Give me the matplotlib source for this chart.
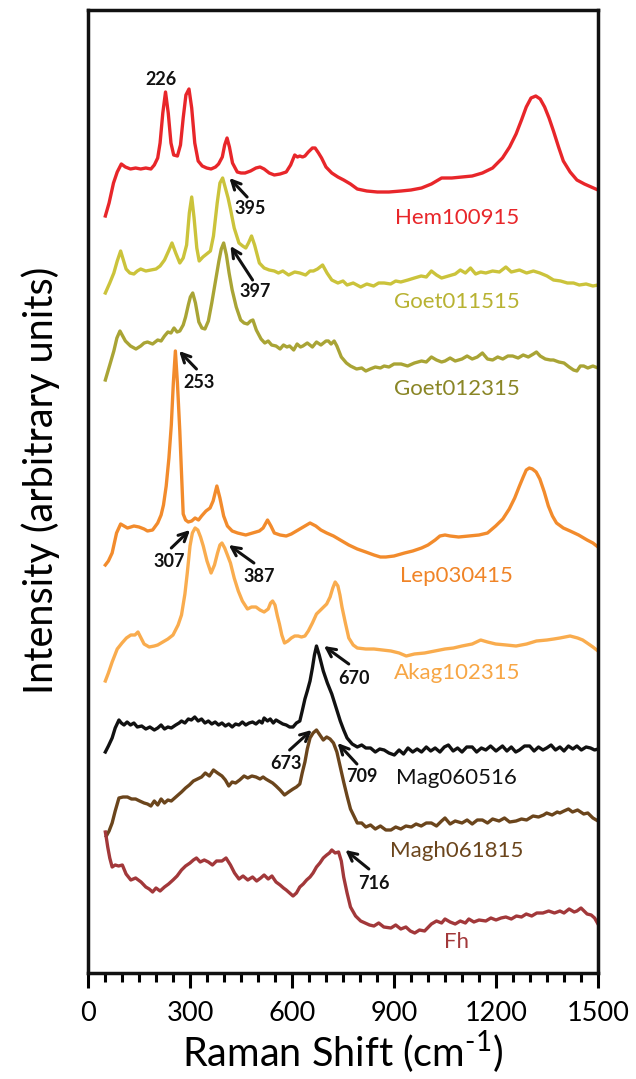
import numpy as np
import matplotlib
matplotlib.use("Agg")
import matplotlib.pyplot as plt
from matplotlib.ticker import MultipleLocator

plt.rcParams['font.family'] = ['Lato', 'DejaVu Sans']
plt.rcParams['mathtext.fontset'] = 'custom'
plt.rcParams['mathtext.rm'] = 'Lato'
plt.rcParams['axes.unicode_minus'] = False

# ---- spectra (x in cm-1, y in arbitrary units) ----
hem_x = [51, 62, 75, 86, 98, 110, 125, 140, 155, 170, 185, 195, 205, 212, 220, 228, 236, 244, 252, 263,
         272, 280, 288, 297, 305, 314, 324, 336, 349, 362, 375, 384, 395, 402, 409, 416, 425, 439, 450, 462,
         478, 494, 506, 518, 533, 548, 565, 583, 596, 608, 616, 623, 631, 638, 648, 660, 668, 678, 687, 700,
         717, 735, 752, 772, 792, 820, 851, 885, 921, 950, 981, 1010, 1040, 1070, 1100, 1130, 1160, 1190,
         1219, 1240, 1259, 1275, 1289, 1303, 1317, 1330, 1343, 1356, 1369, 1384, 1398, 1418, 1438, 1460,
         1480, 1500]
hem_y = [757, 770, 790, 801, 809, 806, 804, 805, 804, 805, 804, 808, 815, 830, 860, 881, 860, 830, 818, 817,
         828, 855, 878, 884, 865, 830, 812, 807, 805, 804, 806, 809, 816, 828, 835, 826, 810, 801, 800, 800,
         802, 805, 806, 804, 800, 798, 799, 801, 808, 818, 816, 817, 816, 817, 821, 825, 825, 820, 815, 806,
         800, 796, 793, 789, 784, 782, 781, 781, 782, 783, 785, 789, 795, 795, 796, 797, 800, 805,
         815, 826, 839, 853, 866, 875, 877, 874, 866, 855, 842, 826, 812, 801, 793, 789,
         786, 783]

goet1_x = [51, 64, 76, 86, 96, 104, 112, 123, 135, 145, 155, 170, 185, 200, 212, 225, 237, 247, 258, 270,
           280, 290, 298, 305, 312, 320, 327, 338, 349, 360, 369, 380, 388, 396, 404, 412, 419, 430, 444, 455,
           464, 472, 481, 490, 504, 518, 533, 548, 560, 573, 590, 608, 623, 640, 653, 663, 675, 690, 703, 717,
           735, 750, 762, 780, 802, 820, 840, 855, 871, 890, 905, 920, 941, 960, 980, 995, 1010, 1025, 1040,
           1060, 1080, 1095, 1110, 1125, 1140, 1155, 1170, 1190, 1210, 1229, 1245, 1269, 1290, 1310, 1329,
           1350, 1369, 1390, 1410, 1428, 1445, 1465, 1485, 1500]
goet1_y = [680, 690, 700, 712, 722, 713, 704, 700, 699, 702, 704, 702, 703, 704, 707, 713, 722, 730, 720, 710,
           715, 728, 760, 776, 755, 725, 712, 716, 719, 722, 737, 770, 790, 795, 785, 775, 764, 745, 730, 727,
           725, 730, 737, 728, 710, 705, 703, 702, 700, 702, 698, 701, 700, 698, 702, 702, 704, 708, 700, 693,
           690, 692, 688, 690, 686, 689, 687, 690, 690, 689, 692, 691, 693, 695, 697, 696, 702, 698, 695,
           697, 699, 703, 700, 705, 699, 701, 700, 702, 701, 706, 701, 703, 700, 702, 700,
           697, 693, 692, 690, 690, 688, 689, 687, 688]

goet2_x = [51, 64, 76, 85, 94, 102, 110, 125, 141, 155, 165, 175, 190, 205, 215, 225, 235, 244, 253, 262,
           270, 280, 287, 295, 301, 308, 316, 326, 335, 344, 354, 364, 375, 385, 392, 399, 407, 415, 424, 436,
           449, 459, 469, 478, 485, 495, 509, 520, 530, 540, 553, 565, 575, 585, 593, 605, 615, 625, 632, 645,
           660, 672, 685, 700, 707, 715, 724, 732, 745, 760, 772, 790, 805, 817, 830, 845, 860, 871, 885, 900,
           921, 940, 960, 981, 995, 1010, 1025, 1040, 1050, 1065, 1080, 1100, 1115, 1130, 1145, 1160, 1175,
           1190, 1205, 1220, 1235, 1249, 1265, 1280, 1295, 1310, 1319, 1330, 1345, 1360, 1369, 1385, 1400,
           1415, 1428, 1438, 1448, 1458, 1470, 1485, 1500]
goet2_y = [593, 608, 622, 635, 642, 637, 632, 627, 624, 627, 630, 631, 629, 633, 632, 637, 641, 640, 645, 641,
           642, 648, 656, 668, 676, 680, 670, 651, 645, 644, 652, 670, 692, 712, 724, 730, 718, 700, 683, 666,
           653, 650, 649, 652, 653, 643, 634, 630, 632, 628, 627, 624, 628, 626, 627, 623, 629, 626, 627, 630,
           626, 631, 628, 632, 632, 629, 632, 627, 616, 610, 607, 604, 605, 602, 604, 606, 605, 607, 606, 609,
           609, 607, 610, 612, 611, 616, 613, 611, 612, 615, 612, 614, 617, 614, 616, 620, 614,
           613, 616, 614, 617, 617, 615, 618, 616, 619, 621, 617, 614, 613, 613, 611, 610,
           606, 603, 602, 607, 607, 605, 607, 605]

lep_x = [51, 60, 71, 84, 96, 106, 116, 126, 135, 150, 165, 175, 190, 205, 215, 222, 230, 238, 245, 251,
         257, 263, 270, 275, 280, 287, 295, 305, 315, 325, 334, 347, 359, 368, 379, 388, 399, 410, 424, 440,
         464, 484, 504, 515, 528, 538, 548, 565, 583, 598, 613, 633, 653, 670, 685, 702, 722, 742, 767, 792,
         817, 841, 860, 876, 900, 931, 955, 981, 1000, 1021, 1035, 1050, 1065, 1090, 1120, 1150, 1175, 1199,
         1220, 1239, 1255, 1269, 1280, 1289, 1298, 1307, 1318, 1329, 1342, 1354, 1366, 1378, 1398, 1418,
         1443, 1468, 1485, 1500]
lep_y = [408, 412, 420, 440, 449, 447, 445, 446, 447, 446, 444, 442, 443, 450, 458, 468, 487, 515, 548, 590,
         622, 590, 542, 500, 459, 453, 451, 452, 455, 453, 457, 462, 465, 472, 487, 475, 457, 447, 442, 440,
         438, 440, 442, 445, 453, 447, 440, 438, 437, 439, 442, 446, 450, 447, 443, 440, 437, 433, 428, 424,
         421, 418, 416, 416, 417, 420, 422, 425, 428, 433, 437, 438, 437, 436, 437, 438, 440, 447,
         454, 464, 475, 487, 496, 503, 505, 504, 501, 494, 481, 467, 457, 450, 445, 442,
         438, 433, 430, 426]

akag_x = [51, 60, 71, 86, 100, 113, 126, 138, 147, 156, 165, 180, 195, 205, 220, 235, 250, 265, 275, 285,
          292, 300, 307, 315, 323, 331, 339, 350, 362, 372, 381, 388, 394, 402, 410, 419, 430, 442, 454, 469,
          481, 494, 506, 518, 530, 537, 543, 550, 557, 563, 570, 578, 588, 598, 608, 618, 628, 638, 648, 660,
          672, 687, 702, 712, 720, 727, 735, 741, 747, 757, 767, 780, 792, 817, 841, 866, 891, 915, 936, 960,
          990, 1020, 1050, 1075, 1100, 1130, 1155, 1175, 1199, 1230, 1259, 1290, 1319, 1350, 1370, 1388,
          1403, 1418, 1440, 1455, 1468, 1485, 1500]
akag_y = [292, 300, 311, 324, 330, 335, 338, 338, 341, 335, 329, 326, 327, 328, 331, 334, 338, 348, 358, 379,
          400, 427, 440, 445, 443, 436, 427, 412, 400, 408, 420, 428, 430, 425, 418, 410, 395, 382, 372, 364,
          366, 366, 363, 361, 364, 370, 372, 368, 357, 349, 338, 330, 332, 335, 337, 337, 336, 337, 342, 350,
          359, 364, 369, 376, 385, 391, 387, 378, 366, 350, 335, 328, 325, 324, 324, 323, 322, 320, 317, 319,
          320, 322, 324, 325, 327, 329, 333, 331, 329, 328, 327, 329, 332, 333, 334, 335,
          336, 337, 335, 333, 330, 326, 322]

mag_x = [51, 60, 71, 80, 91, 98, 106, 115, 125, 135, 145, 158, 170, 182, 195, 205, 215, 225, 235, 245,
         258, 268, 275, 285, 295, 304, 314, 324, 334, 344, 354, 364, 374, 384, 394, 404, 414, 424, 434, 444,
         454, 464, 474, 484, 494, 504, 512, 518, 528, 536, 545, 553, 563, 573, 583, 593, 603, 613, 623, 630,
         638, 645, 653, 660, 666, 672, 680, 692, 704, 717, 730, 742, 752, 762, 777, 792, 805, 817, 831, 845,
         858, 871, 885, 901, 915, 928, 941, 955, 968, 981, 995, 1008, 1021, 1035, 1048, 1060, 1074, 1087,
         1100, 1114, 1130, 1143, 1157, 1170, 1184, 1200, 1219, 1232, 1245, 1258, 1269, 1284, 1299, 1312,
         1325, 1338, 1349, 1362, 1375, 1388, 1400, 1413, 1426, 1438, 1451, 1465, 1478, 1490, 1500]
mag_y = [221, 227, 235, 245, 253, 250, 248, 251, 248, 250, 246, 247, 244, 246, 243, 245, 248, 244, 246, 245,
         248, 250, 252, 250, 254, 253, 256, 252, 254, 250, 252, 249, 251, 248, 250, 247, 249, 246, 249, 248,
         251, 248, 250, 251, 249, 252, 250, 255, 252, 254, 250, 253, 251, 249, 248, 246, 246, 250, 252, 262,
         274, 282, 292, 305, 318, 327, 318, 302, 290, 279, 265, 252, 243, 235, 229, 226, 228, 225, 225, 221,
         224, 223, 220, 218, 223, 219, 225, 221, 224, 221, 226, 222, 225, 221, 226, 228, 222, 225,
         221, 226, 226, 221, 225, 223, 227, 222, 227, 222, 226, 221, 223, 227, 227, 222,
         226, 223, 225, 228, 223, 226, 222, 227, 224, 227, 223, 226, 225, 223, 224]

magh_x = [54, 62, 71, 80, 91, 103, 116, 128, 140, 152, 165, 175, 185, 195, 205, 215, 225, 235, 245, 255,
          265, 275, 287, 298, 310, 322, 334, 345, 357, 369, 381, 394, 404, 414, 424, 434, 446, 459, 470, 482,
          494, 506, 515, 523, 533, 543, 553, 565, 578, 590, 603, 613, 623, 630, 638, 645, 653, 662, 672, 682,
          692, 702, 712, 722, 732, 742, 752, 762, 772, 782, 792, 805, 817, 831, 845, 860, 876, 891, 905, 920,
          935, 951, 965, 980, 995, 1010, 1025, 1040, 1050, 1065, 1080, 1100, 1115, 1130, 1145, 1160, 1175,
          1190, 1209, 1225, 1240, 1259, 1275, 1290, 1309, 1325, 1340, 1349, 1365, 1380, 1388, 1400, 1413,
          1425, 1440, 1458, 1470, 1485, 1500]
magh_y = [137, 142, 150, 162, 175, 176, 176, 174, 174, 172, 170, 169, 167, 172, 168, 174, 170, 173, 172, 175,
          178, 181, 185, 188, 192, 194, 196, 200, 197, 203, 200, 197, 193, 187, 191, 190, 193, 197, 195, 197,
          196, 194, 196, 194, 192, 190, 187, 183, 178, 181, 184, 186, 189, 200, 211, 224, 235, 240, 243, 238,
          233, 236, 234, 230, 221, 206, 191, 177, 164, 157, 150, 150, 146, 148, 144, 147, 143, 143, 146, 144,
          147, 146, 149, 147, 150, 150, 147, 152, 155, 149, 152, 150, 153, 149, 153, 153, 150,
          154, 152, 155, 151, 152, 154, 153, 157, 156, 158, 160, 158, 161, 160, 162, 164,
          161, 163, 159, 160, 155, 152]

fh_x = [51, 54, 58, 64, 71, 80, 90, 101, 112, 126, 140, 156, 170, 180, 190, 200, 212, 225, 237, 250,
        262, 275, 287, 300, 310, 319, 330, 342, 354, 366, 378, 394, 406, 419, 431, 444, 456, 470, 484, 496,
        508, 518, 530, 541, 553, 565, 575, 583, 593, 603, 613, 623, 633, 643, 653, 662, 672, 682, 692, 702,
        710, 717, 727, 737, 745, 752, 762, 772, 787, 802, 815, 828, 841, 855, 870, 891, 905, 920, 935, 948,
        961, 975, 990, 1010, 1025, 1040, 1050, 1065, 1080, 1095, 1110, 1120, 1135, 1150, 1170, 1185, 1200,
        1215, 1229, 1245, 1260, 1275, 1289, 1305, 1320, 1338, 1355, 1372, 1388, 1400, 1415, 1430, 1438,
        1450, 1468, 1480, 1490, 1500]
fh_y = [141, 135, 126, 115, 106, 108, 107, 108, 99, 93, 95, 91, 86, 84, 81, 85, 82, 86, 89, 93,
        97, 103, 107, 110, 113, 115, 111, 113, 111, 108, 112, 112, 115, 108, 100, 94, 97, 93, 96, 92,
        95, 98, 94, 97, 91, 88, 85, 83, 80, 77, 80, 86, 89, 93, 96, 100, 106, 110, 115, 118,
        120, 123, 120, 121, 112, 96, 80, 66, 57, 52, 50, 48, 47, 50, 46, 45, 48, 44, 46, 42,
        40, 43, 42, 49, 52, 50, 54, 51, 49, 52, 50, 54, 51, 53, 52, 55, 53,
        55, 56, 54, 57, 56, 59, 57, 60, 60, 62, 60, 62, 60, 64, 61, 62,
        65, 59, 58, 55, 49]

names = ['Hem100915', 'Goet011515', 'Goet012315', 'Lep030415', 'Akag102315',
         'Mag060516', 'Magh061815', 'Fh']
xs = [hem_x, goet1_x, goet2_x, lep_x, akag_x, mag_x, magh_x, fh_x]
ys = [hem_y, goet1_y, goet2_y, lep_y, akag_y, mag_y, magh_y, fh_y]
line_colors = ['#E8262A', '#CBC33B', '#A9A435', '#F28B2C', '#F9AC4E', '#111111', '#6B451C', '#A2383A']
text_colors = ['#E8262A', '#B8B232', '#8A8626', '#F08427', '#F7A645', '#111111', '#6B451C', '#A2383A']
# label anchors (x centre, baseline)
label_x = [1085] * 8
label_y = [749, 665, 578, 391, 294, 189, 116, 25]

# peak annotations: text, text position, arrow tail, arrow tip (None = no arrow)
peak_text = ['226', '395', '397', '253', '307', '387', '670', '673', '709', '716']
peak_pos = [(216, 888), (476, 759), (491, 676), (326, 585), (238, 406), (503, 391),
            (782, 289), (582, 204), (806, 191), (841, 84)]
arrow_tail = [None, (468, 776), (484, 693), (319, 604), (245, 425), (488, 410),
              (767, 309), (593, 223), (791, 209), (826, 104)]
arrow_tip = [None, (416, 795), (419, 727), (268, 622), (300, 443), (414, 428),
             (694, 327), (658, 243), (734, 230), (757, 123)]

fig = plt.figure(figsize=(6.36, 10.79), dpi=100)
ax = fig.add_axes([88 / 636, 106 / 1079, 510 / 636, 963 / 1079])

for x, y, c in zip(xs, ys, line_colors):
    ax.plot(x, y, color=c, lw=2.4, solid_joinstyle='round')

for name, lx, ly, tc in zip(names, label_x, label_y, text_colors):
    ax.text(lx, ly, name, color=tc, fontsize=16, ha='center', va='baseline')

for t, pos, tail, tip in zip(peak_text, peak_pos, arrow_tail, arrow_tip):
    ax.text(pos[0], pos[1], t, fontsize=13, fontweight='bold', ha='center', va='baseline', color='#111111')
    if tip is not None:
        ax.annotate('', xy=tip, xytext=tail,
                    arrowprops=dict(arrowstyle='->', lw=2.2, color='#111111',
                                    mutation_scale=16, shrinkA=0, shrinkB=0))

ax.set_xlim(0, 1500)
ax.set_ylim(0, 963)
ax.xaxis.set_major_locator(MultipleLocator(300))
ax.xaxis.set_minor_locator(MultipleLocator(50))
ax.set_yticks([])
ax.tick_params(axis='x', which='major', direction='out', length=11, width=2.2, labelsize=19.5, pad=9)
ax.tick_params(axis='x', which='minor', direction='out', length=6.5, width=2.2)
for s in ax.spines.values():
    s.set_linewidth(2.5)
    s.set_color('#111111')

ax.set_xlabel('Raman Shift (cm$^{\\text{-1}}$)', fontsize=28.5, labelpad=2)
ax.set_ylabel('Intensity (arbitrary units)', fontsize=28.5)
ax.yaxis.set_label_coords(-0.055, 0.512)

fig.savefig('out.png', dpi=100)
